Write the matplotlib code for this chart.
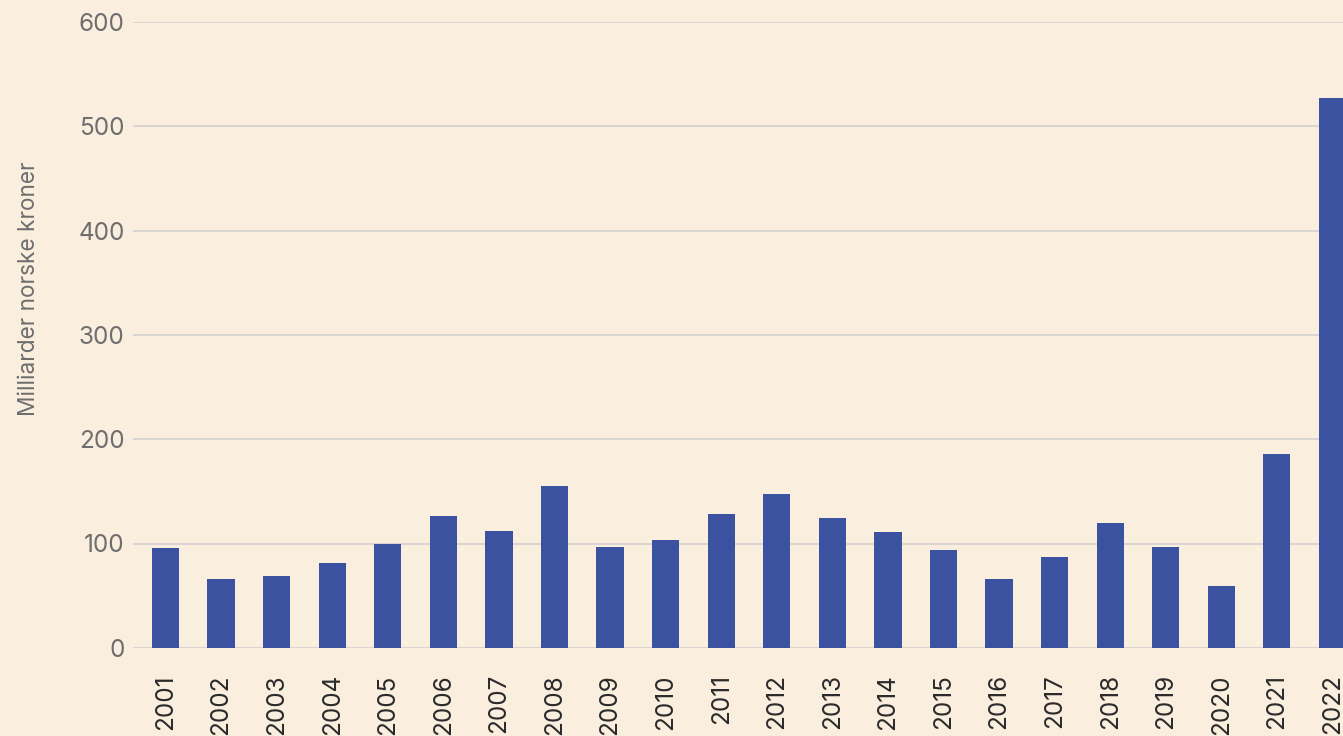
import matplotlib
matplotlib.use("Agg")
import matplotlib.pyplot as plt

years = [str(y) for y in range(2001, 2023)]
values = [95.5, 65.5, 69, 81.5, 100, 126.5, 112, 155.5, 97, 103.5, 128.5,
          147, 124.5, 111, 94, 66, 87, 120, 97, 59.5, 186, 527.5]
yticks = [0, 100, 200, 300, 400, 500, 600]
ylabel = "Milliarder norske kroner"

bg = "#FAEEDF"
bar_color = "#3B52A0"
grid_color = "#D8D5D2"

plt.rcParams["font.family"] = ["Inter", "DejaVu Sans"]

fig = plt.figure(figsize=(13.43, 7.36), dpi=100, facecolor=bg)
ax = fig.add_axes([133 / 1343, 1 - 647.8 / 736, 1 - 133 / 1343, 625.8 / 736])
ax.set_facecolor(bg)

x = list(range(len(years)))
ax.bar(x, values, width=0.49, color=bar_color, zorder=3)

ax.set_xlim(-0.585, 21.19)
ax.set_ylim(0, 600)
ax.set_yticks(yticks)
ax.set_yticklabels([str(t) for t in yticks])
ax.set_xticks(x)
ax.set_xticklabels(years, rotation=90, ha="center", va="top")

ax.grid(axis="y", color=grid_color, linewidth=1.4, zorder=0)
ax.set_axisbelow(True)
for s in ax.spines.values():
    s.set_visible(False)

ax.tick_params(axis="y", length=0, pad=6, labelsize=17.5, labelcolor="#6E6E6E")
ax.tick_params(axis="x", length=0, pad=19, labelsize=17.5, labelcolor="#2A2A2A")

ax.set_ylabel(ylabel, fontsize=16.3, color="#6E6E6E")
ax.yaxis.set_label_coords(-(133 - 40) / 1210, (647.8 - 288.5) / 625.8)

fig.savefig("out.png", dpi=100, facecolor=bg)
